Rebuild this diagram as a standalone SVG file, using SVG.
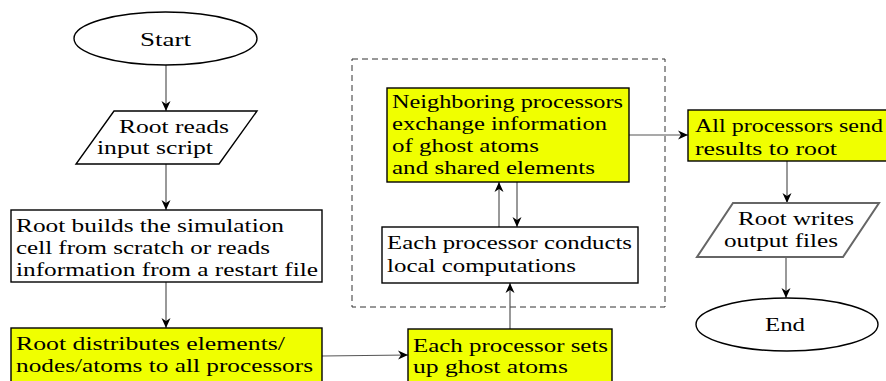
<svg xmlns="http://www.w3.org/2000/svg" width="886" height="381" viewBox="0 0 886 381">
<style>
text{font-family:"Liberation Serif","DejaVu Serif","Times New Roman",serif;font-size:19px;fill:#000}
.box{fill:#fff;stroke:#000;stroke-width:1.4}
.yel{fill:#f0ff00;stroke:#000;stroke-width:1.4}
.conn{stroke:#555;stroke-width:1.2;fill:none;marker-end:url(#arr)}
</style>
<defs>
<marker id="arr" viewBox="-11 -5 12 10" refX="0" refY="0" markerWidth="12" markerHeight="10" markerUnits="userSpaceOnUse" orient="auto">
<path d="M0,0 L-10,-4.5 L-7,0 L-10,4.5 Z" fill="#000"/>
</marker>
</defs>
<rect width="886" height="381" fill="#fff"/>
<g id="loop">
<rect x="352" y="59" width="313" height="248" fill="none" stroke="#333" stroke-width="1" stroke-dasharray="6,4"/>
</g>
<g id="connectors">
<line class="conn" x1="166" y1="65" x2="166" y2="111"/>
<line class="conn" x1="166" y1="164" x2="166" y2="210"/>
<line class="conn" x1="166" y1="282" x2="166" y2="328"/>
<line class="conn" x1="322" y1="356" x2="408" y2="355"/>
<line class="conn" x1="510" y1="329" x2="510" y2="283"/>
<line class="conn" x1="499" y1="227" x2="499" y2="182"/>
<line class="conn" x1="517" y1="182" x2="517" y2="227"/>
<line class="conn" x1="629" y1="135" x2="688" y2="135"/>
<line class="conn" x1="787" y1="161" x2="787" y2="203"/>
<line class="conn" x1="786" y1="257" x2="786" y2="298"/>
</g>
<g id="start">
<ellipse cx="165.5" cy="38.5" rx="91.5" ry="26.5" class="box"/>
<text x="140" y="46" textLength="51" lengthAdjust="spacingAndGlyphs">Start</text>
</g>
<g id="readinput">
<polygon points="114,111 257,111 219,164 76,164" class="box"/>
<text x="119" y="133" textLength="110" lengthAdjust="spacingAndGlyphs">Root reads</text>
<text x="97" y="154" textLength="116" lengthAdjust="spacingAndGlyphs">input script</text>
</g>
<g id="build">
<rect x="11" y="210" width="311" height="72" class="box"/>
<text x="16" y="232" textLength="268" lengthAdjust="spacingAndGlyphs">Root builds the simulation</text>
<text x="16" y="254" textLength="254" lengthAdjust="spacingAndGlyphs">cell from scratch or reads</text>
<text x="16" y="276" textLength="302" lengthAdjust="spacingAndGlyphs">information from a restart file</text>
</g>
<g id="distribute">
<rect x="11" y="328" width="311" height="58" class="yel"/>
<text x="16" y="350" textLength="269" lengthAdjust="spacingAndGlyphs">Root distributes elements/</text>
<text x="16" y="372" textLength="297" lengthAdjust="spacingAndGlyphs">nodes/atoms to all processors</text>
</g>
<g id="ghost">
<rect x="408" y="329" width="204" height="57" class="yel"/>
<text x="413" y="352" textLength="195" lengthAdjust="spacingAndGlyphs">Each processor sets</text>
<text x="413" y="373" textLength="155" lengthAdjust="spacingAndGlyphs">up ghost atoms</text>
</g>
<g id="compute">
<rect x="382" y="227" width="256" height="56" class="box"/>
<text x="387" y="249" textLength="245" lengthAdjust="spacingAndGlyphs">Each processor conducts</text>
<text x="387" y="272" textLength="189" lengthAdjust="spacingAndGlyphs">local computations</text>
</g>
<g id="exchange">
<rect x="387" y="88" width="242" height="94" class="yel"/>
<text x="392" y="108" textLength="231" lengthAdjust="spacingAndGlyphs">Neighboring processors</text>
<text x="392" y="130" textLength="215" lengthAdjust="spacingAndGlyphs">exchange information</text>
<text x="392" y="152" textLength="147" lengthAdjust="spacingAndGlyphs">of ghost atoms</text>
<text x="392" y="174" textLength="203" lengthAdjust="spacingAndGlyphs">and shared elements</text>
</g>
<g id="send">
<rect x="688" y="110" width="210" height="51" class="yel"/>
<text x="695" y="132" textLength="188" lengthAdjust="spacingAndGlyphs">All processors send</text>
<text x="695" y="155" textLength="142" lengthAdjust="spacingAndGlyphs">results to root</text>
</g>
<g id="write">
<polygon points="733,203 879,203 843,257 697,257" fill="#fff" stroke="#666" stroke-width="2"/>
<text x="738" y="225" textLength="116" lengthAdjust="spacingAndGlyphs">Root writes</text>
<text x="724" y="247" textLength="114" lengthAdjust="spacingAndGlyphs">output files</text>
</g>
<g id="end">
<ellipse cx="787" cy="324.5" rx="91" ry="26.5" class="box"/>
<text x="765" y="331" textLength="40" lengthAdjust="spacingAndGlyphs">End</text>
</g>
</svg>
